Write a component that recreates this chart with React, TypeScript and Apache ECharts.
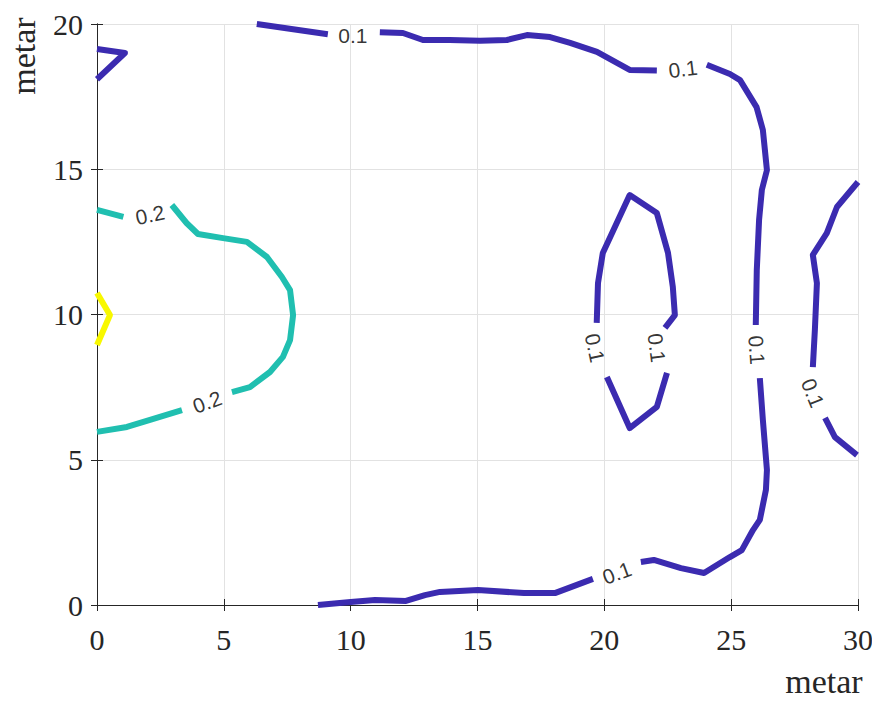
import React, { useEffect, useRef } from "react";
import * as echarts from "echarts";

// x ticks / y ticks
const xTicks = [0, 5, 10, 15, 20, 25, 30];
const yTicks = [0, 5, 10, 15, 20];

// Contour level 0.1 pieces (metres)
const c01TopLeft = [[0, 19.14], [1.1, 19.0], [0, 18.1]];
const c01TopA = [[6.3, 20.0], [9.1, 19.65]];
const c01TopB = [[11.15, 19.72], [12.06, 19.69], [12.85, 19.45], [13.9, 19.45], [15.1, 19.42], [16.16, 19.45], [16.95, 19.62], [17.86, 19.55], [18.65, 19.35], [19.71, 19.04], [21.0, 18.42], [22.07, 18.4]];
const c01RightA = [[24.04, 18.6], [24.95, 18.28], [25.35, 18.07], [26.0, 17.14], [26.25, 16.35], [26.41, 14.97], [26.21, 14.29], [26.1, 13.25], [26.01, 11.53], [25.97, 9.64]];
const c01RightB = [[26.13, 7.81], [26.25, 6.37], [26.41, 4.65], [26.37, 3.96], [26.13, 2.93], [25.86, 2.58], [25.42, 1.89], [24.95, 1.65], [23.93, 1.1], [23.02, 1.27], [21.95, 1.55], [21.44, 1.48]];
const c01Bottom = [[19.55, 0.9], [18.05, 0.41], [16.83, 0.41], [15.02, 0.52], [13.52, 0.45], [12.93, 0.34], [12.18, 0.14], [10.96, 0.17], [10.0, 0.1], [8.71, 0]];
const c01LoopA = [[20.1, 7.85], [21.0, 6.09], [22.07, 6.82], [22.47, 7.99]];
const c01LoopB = [[22.39, 9.54], [22.78, 9.98], [22.7, 10.95], [22.51, 12.12], [22.07, 13.49], [21.0, 14.11], [19.94, 12.12], [19.75, 11.08], [19.7, 9.71]];
const c01EdgeA = [[30, 14.56], [29.17, 13.7], [28.77, 12.8], [28.22, 12.05], [28.38, 11.08], [28.3, 9.47], [28.22, 8.19]];
const c01EdgeB = [[28.7, 6.44], [29.09, 5.78], [29.96, 5.16]];

// Contour level 0.2 pieces
const c02A = [[0, 13.6], [1.04, 13.36]];
const c02B = [[2.95, 13.77], [3.53, 13.15], [3.98, 12.77], [4.97, 12.63], [5.91, 12.5], [6.7, 11.98], [7.29, 11.29], [7.61, 10.84], [7.73, 9.98], [7.61, 9.12], [7.33, 8.54], [6.82, 8.02], [6.03, 7.5], [5.32, 7.33]];
const c02C = [[3.35, 6.71], [2.09, 6.37], [1.18, 6.13], [0, 5.96]];

// Contour level 0.3 piece
const c03 = [[0, 10.74], [0.51, 9.98], [0, 8.95]];

// Inline contour labels: [x, y, text, angle]
const contourLabels: [number, number, string, number][] = [
  [10.09, 19.59, "0.1", 0],
  [23.1, 18.45, "0.1", 7],
  [20.5, 1.1, "0.1", 20],
  [2.09, 13.43, "0.2", 12],
  [4.34, 6.99, "0.2", 20],
  [19.63, 8.85, "0.1", -78],
  [22.07, 8.85, "0.1", -83],
  [26.01, 8.78, "0.1", -86],
  [28.22, 7.3, "0.1", -68],
];

const BLUE = "#3b2bb0";
const TEAL = "#20bfb0";
const YELLOW = "#f8f800";
const INK = "#262626";
const SERIF = "'Liberation Serif', 'Times New Roman', serif";

export default function App() {
  const ref = useRef<HTMLDivElement>(null);
  useEffect(() => {
    if (!ref.current) return;
    const chart = echarts.init(ref.current, null, { renderer: "svg" });
    const pieces: [number[][], string][] = [
      [c01TopLeft, BLUE], [c01TopA, BLUE], [c01TopB, BLUE], [c01RightA, BLUE],
      [c01RightB, BLUE], [c01Bottom, BLUE], [c01LoopA, BLUE], [c01LoopB, BLUE],
      [c01EdgeA, BLUE], [c01EdgeB, BLUE],
      [c02A, TEAL], [c02B, TEAL], [c02C, TEAL],
      [c03, YELLOW],
    ];
    const lineSeries = pieces.map(([d, color]) => ({
      type: "line",
      data: d,
      showSymbol: false,
      symbol: "none",
      clip: false,
      silent: true,
      lineStyle: { color, width: 6, join: "round", cap: "butt" },
      z: 3,
    }));
    const tickFont = { fontFamily: SERIF, fontSize: 30, color: INK };
    const option: any = {
      animation: false,
      backgroundColor: "#ffffff",
      grid: { left: 97, right: 22, top: 24, bottom: 99, containLabel: false },
      xAxis: [
        {
          type: "value", min: 0, max: 30, interval: 5, position: "bottom",
          axisLine: { show: true, lineStyle: { color: INK, width: 1 } },
          axisTick: { show: true, inside: true, length: 6, lineStyle: { color: INK } },
          axisLabel: { ...tickFont, margin: 19, formatter: (v: number) => (xTicks.includes(v) ? String(v) : "") },
          splitLine: { show: true, lineStyle: { color: "#e2e2e2", width: 1 } },
        },
        {
          type: "value", min: 0, max: 30, interval: 5, position: "top",
          axisLine: { show: true, lineStyle: { color: INK, width: 1 } },
          axisTick: { show: true, inside: true, length: 6, lineStyle: { color: INK } },
          axisLabel: { show: false },
          splitLine: { show: false },
        },
      ],
      yAxis: [
        {
          type: "value", min: 0, max: 20, interval: 5, position: "left",
          axisLine: { show: true, lineStyle: { color: INK, width: 1 } },
          axisTick: { show: true, inside: true, length: 6, lineStyle: { color: INK } },
          axisLabel: { ...tickFont, margin: 14, formatter: (v: number) => (yTicks.includes(v) ? String(v) : "") },
          splitLine: { show: true, lineStyle: { color: "#e2e2e2", width: 1 } },
        },
        {
          type: "value", min: 0, max: 20, interval: 5, position: "right",
          axisLine: { show: true, lineStyle: { color: INK, width: 1 } },
          axisTick: { show: true, inside: true, length: 6, lineStyle: { color: INK } },
          axisLabel: { show: false },
          splitLine: { show: false },
        },
      ],
      series: [
        ...lineSeries,
        {
          type: "scatter",
          symbolSize: 0,
          silent: true,
          z: 5,
          data: contourLabels.map(([x, y, t, a]) => ({
            value: [x, y],
            name: t,
            label: { rotate: a },
          })),
          label: {
            show: true,
            position: "inside",
            formatter: (p: any) => p.name,
            fontFamily: "'Liberation Sans', Arial, sans-serif",
            fontSize: 21,
            color: "#000000",
            align: "center",
            verticalAlign: "middle",
          },
        },
      ],
      graphic: [
        {
          type: "text", x: 824, y: 664,
          style: { text: "metar", font: `34px ${SERIF}`, fill: INK, align: "center", verticalAlign: "top" },
        },
        {
          type: "text", x: 23, y: 56, rotation: Math.PI / 2,
          style: { text: "metar", font: `34px ${SERIF}`, fill: INK, align: "center", verticalAlign: "middle" },
        },
      ],
    };
    chart.setOption(option);
    return () => chart.dispose();
  }, []);
  return <div ref={ref} style={{ width: 880, height: 704, margin: -8 }} />;
}
